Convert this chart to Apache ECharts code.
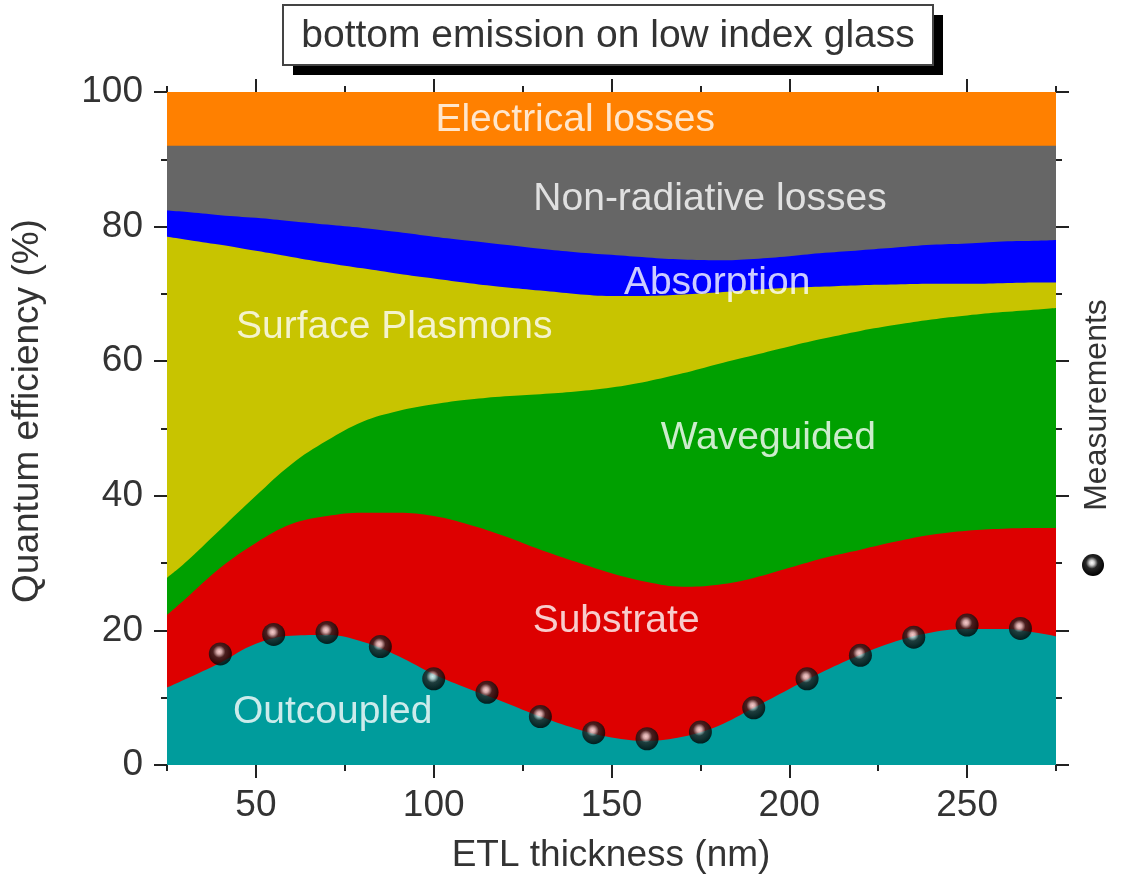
<!DOCTYPE html>
<html>
<head>
<meta charset="utf-8">
<script src="https://cdn.jsdelivr.net/npm/echarts@6/dist/echarts.min.js"></script>
<style>
html,body{margin:0;padding:0;background:#fff;}
#chart{width:1125px;height:895px;}
</style>
</head>
<body>
<div id="chart"></div>
<script>
// ---- data ----
const thickness = [25,30,40,50,60,70,80,90,100,110,120,130,140,150,160,170,180,190,200,210,220,230,240,250,260,270,275];
// cumulative upper boundary of each stacked region (%)
const outcoupledTop = [11.5,12.7,15.2,18.0,19.2,19.3,18.3,16.2,13.5,11.3,9.3,7.2,5.4,4.1,3.6,4.2,5.8,8.5,11.3,14.0,16.4,18.4,19.7,20.2,20.2,19.6,19.1];
const substrateTop = [22.3,24.6,29.3,33.0,35.8,37.0,37.5,37.5,37.0,35.7,34.0,32.0,30.2,28.5,27.2,26.5,26.8,27.8,29.3,30.8,32.0,33.2,34.2,34.8,35.1,35.2,35.2];
const waveguidedTop = [27.8,30.0,35.0,40.0,44.7,48.2,51.0,52.6,53.6,54.3,54.8,55.1,55.5,56.1,57.0,58.2,59.6,60.9,62.2,63.4,64.5,65.4,66.2,66.8,67.3,67.7,67.9];
const plasmonsTop = [78.5,78.1,77.3,76.4,75.5,74.6,73.8,73.0,72.3,71.6,71.0,70.5,70.0,69.7,69.7,69.9,70.2,70.6,70.9,71.1,71.3,71.4,71.5,71.5,71.6,71.7,71.7];
const absorptionTop = [82.4,82.2,81.7,81.3,80.8,80.3,79.8,79.2,78.5,77.9,77.3,76.7,76.2,75.8,75.4,75.1,75.0,75.2,75.6,76.1,76.5,76.9,77.3,77.5,77.8,77.9,78.0];
const nonRadiativeTop = 92;
const electricalTop = 100;
// measurements
const measThickness = [40,55,70,85,100,115,130,145,160,175,190,205,220,235,250,265];
const measEfficiency = [16.5,19.4,19.7,17.6,12.8,10.8,7.2,4.8,3.9,4.9,8.5,12.8,16.3,19.0,20.8,20.3];
// ticks
const xMajorTicks = [50,100,150,200,250];
const xMinorTicks = [25,75,125,175,225,275];
const yTickLabels = ['0','20','40','60','80','100'];

// ---- build ----
const FONT = 'Liberation Sans, Arial, sans-serif';
const TXT = '#333333';
const TICK = '#222222';
const pairs = (xs, ys) => xs.map((x, i) => [x, Array.isArray(ys) ? ys[i] : ys]);

const sphere = {
  type: 'radial', x: 0.45, y: 0.4, r: 0.6,
  colorStops: [
    {offset: 0, color: '#ffffff'},
    {offset: 0.18, color: '#d0d0d0'},
    {offset: 0.45, color: '#262626'},
    {offset: 1, color: '#000000'}
  ]
};

function areaSeries(name, ys, color) {
  return {
    name, type: 'line', smooth: 0.4,
    symbol: 'none', silent: true,
    lineStyle: {width: 0, color},
    areaStyle: {color, opacity: 1, origin: 'start'},
    data: pairs(thickness, ys)
  };
}

const regionLabels = [
  {name: 'Electrical losses', value: [139.8, 95.8]},
  {name: 'Non-radiative losses', value: [177.7, 84.0]},
  {name: 'Absorption', value: [179.7, 71.6]},
  {name: 'Surface Plasmons', value: [88.9, 65.1]},
  {name: 'Waveguided', value: [194.1, 48.6]},
  {name: 'Substrate', value: [151.3, 21.3]},
  {name: 'Outcoupled', value: [71.6, 7.9]}
];

function xAx(position, ticks, len, showLabel) {
  return {
    type: 'value', min: 25, max: 275, position,
    axisLine: {show: false},
    splitLine: {show: false},
    axisTick: {show: true, inside: false, length: len, customValues: ticks, lineStyle: {color: TICK, width: 2}},
    axisLabel: showLabel ? {show: true, customValues: ticks, fontSize: 37, color: TXT, fontFamily: FONT, margin: 22} : {show: false}
  };
}
function yAx(position, showLabel) {
  return {
    type: 'value', min: 0, max: 100, interval: 20, position,
    axisLine: {show: false},
    splitLine: {show: false},
    axisTick: {show: true, inside: false, length: 13, lineStyle: {color: TICK, width: 2}},
    minorTick: {show: true, splitNumber: 2, length: 6, lineStyle: {color: TICK, width: 2}},
    axisLabel: showLabel ? {show: true, fontSize: 37, color: TXT, fontFamily: FONT, margin: 24,
      formatter: v => yTickLabels[Math.round(v / 20)]} : {show: false}
  };
}

const option = {
  animation: false,
  backgroundColor: '#ffffff',
  grid: {left: 167, right: 69, top: 92, bottom: 130, containLabel: false},
  xAxis: [
    xAx('bottom', xMajorTicks, 13, true),
    xAx('bottom', xMinorTicks, 6, false),
    xAx('top', xMajorTicks, 13, false),
    xAx('top', xMinorTicks, 6, false)
  ],
  yAxis: [yAx('left', true), yAx('right', false)],
  series: [
    areaSeries('Electrical losses', electricalTop, '#FF8000'),
    areaSeries('Non-radiative losses', nonRadiativeTop, '#666666'),
    areaSeries('Absorption', absorptionTop, '#0000FF'),
    areaSeries('Surface Plasmons', plasmonsTop, '#C8C400'),
    areaSeries('Waveguided', waveguidedTop, '#00A000'),
    areaSeries('Substrate', substrateTop, '#DD0000'),
    areaSeries('Outcoupled', outcoupledTop, '#009C9C'),
    {
      name: 'Measurements', type: 'scatter', symbol: 'circle', symbolSize: 23,
      itemStyle: {color: sphere},
      data: pairs(measThickness, measEfficiency), z: 5
    },
    {
      name: 'labels', type: 'scatter', symbolSize: 0, silent: true, z: 6,
      label: {show: true, position: 'inside', formatter: '{b}', color: '#ffffff',
        fontSize: 39, fontFamily: FONT},
      data: regionLabels
    }
  ],
  graphic: [
    {type: 'rect', shape: {x: 293, y: 15, width: 650, height: 60}, style: {fill: '#000000'}, z: 10},
    {type: 'rect', shape: {x: 283, y: 5, width: 650, height: 60}, style: {fill: '#ffffff', stroke: '#444444', lineWidth: 2}, z: 11},
    {type: 'text', x: 608, y: 36, z: 12,
      style: {text: 'bottom emission on low index glass', fill: TXT, fontSize: 39, fontFamily: FONT, align: 'center', verticalAlign: 'middle'}},
    {type: 'text', x: 611, y: 856, z: 12,
      style: {text: 'ETL thickness (nm)', fill: TXT, fontSize: 37, fontFamily: FONT, align: 'center', verticalAlign: 'middle'}},
    {type: 'text', x: 28, y: 411, rotation: Math.PI / 2, z: 12,
      style: {text: 'Quantum efficiency (%)', fill: TXT, fontSize: 37, fontFamily: FONT, align: 'center', verticalAlign: 'middle'}},
    {type: 'text', x: 1097, y: 405, rotation: Math.PI / 2, z: 12,
      style: {text: 'Measurements', fill: TXT, fontSize: 32, fontFamily: FONT, align: 'center', verticalAlign: 'middle'}},
    {type: 'circle', shape: {cx: 1093, cy: 565, r: 11}, style: {fill: sphere}, z: 12}
  ]
};

const chart = echarts.init(document.getElementById('chart'), null, {renderer: 'canvas'});
chart.setOption(option);
</script>
</body>
</html>
